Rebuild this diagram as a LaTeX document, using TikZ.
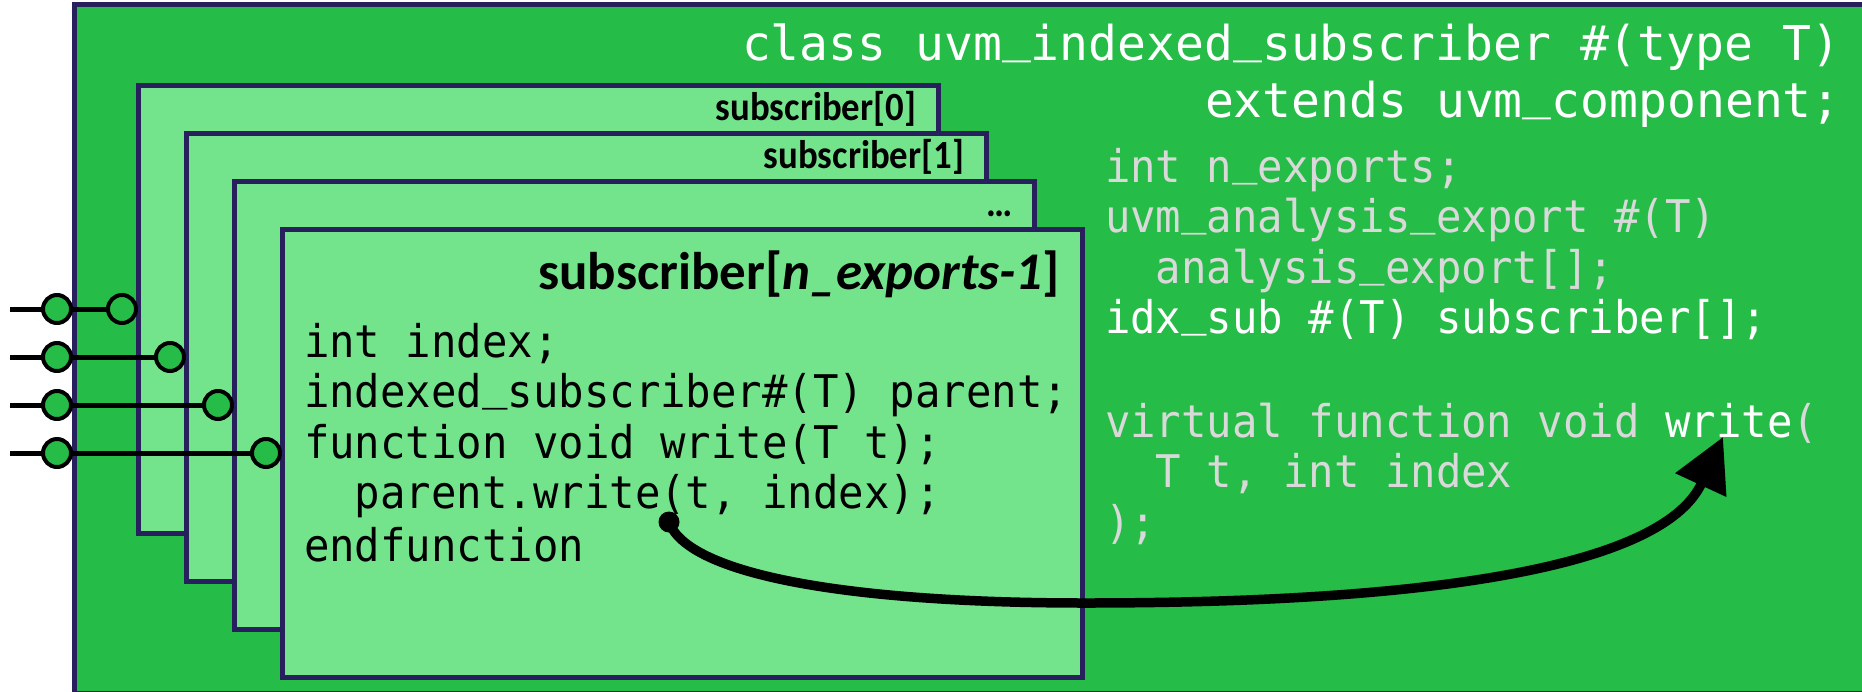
\documentclass[tikz,border=0pt]{standalone}
\usepackage{fontspec}
\usetikzlibrary{arrows.meta}
\newfontfamily\codefont[FakeStretch=0.94]{DejaVu Sans Mono}
\newfontfamily\headfont{DejaVu Sans Mono}
\newfontfamily\lblfont{Carlito}
\newfontfamily\smlblfont[FakeStretch=0.92]{Carlito}
\definecolor{outergreen}{RGB}{37,188,72}
\definecolor{innergreen}{RGB}{116,228,140}
\definecolor{navy}{RGB}{40,32,92}
\definecolor{codegray}{RGB}{217,217,217}
% underscore sitting close to the baseline
\newcommand{\us}{\raisebox{0.17em}{\_}}
\frenchspacing
\begin{document}
\begin{tikzpicture}[x=1pt,y=-1pt,
  classbox/.style={draw=navy,line width=5pt,fill=outergreen,rectangle,inner sep=0pt,outer sep=0pt,anchor=north west},
  subbox/.style={draw=navy,line width=5pt,fill=innergreen,rectangle,inner sep=0pt,outer sep=0pt,anchor=north west,minimum width=800pt,minimum height=448pt},
  port/.style={circle,draw=black,line width=4pt,fill=outergreen,inner sep=0pt,outer sep=0pt,minimum size=28pt},
  wire/.style={draw=black,line width=5pt},
  code/.style={inner sep=0pt,outer sep=0pt,anchor=base west,font=\codefont\fontsize{45}{54}\selectfont},
  head/.style={inner sep=0pt,outer sep=0pt,anchor=base west,text=white,font=\headfont\fontsize{48}{58}\selectfont},
  smlbl/.style={inner sep=0pt,outer sep=0pt,anchor=base east,text=black,font=\smlblfont\bfseries\fontsize{40}{48}\selectfont},
  biglbl/.style={inner sep=0pt,outer sep=0pt,anchor=base east,text=black,font=\lblfont\bfseries\fontsize{53}{62}\selectfont}]
\useasboundingbox (0,0) rectangle (1862,691);
\clip (0,0) rectangle (1862,691);

% enclosing class component
\node[classbox,minimum width=1800pt,minimum height=689pt] (cls) at (74,4.5) {};

% stacked subscriber components
\foreach \k in {0,...,3}
  \node[subbox] (s\k) at ({138+48*\k},{85+48*\k}) {};

% analysis ports
\foreach \k in {0,...,3} {
  \coordinate (w\k) at (10,{309+48*\k});
  \node[port] (po\k) at (57,{309+48*\k}) {};
  \node[port] (pi\k) at ({122+48*\k},{309+48*\k}) {};
  \draw[wire] (w\k) -- (po\k);
  \draw[wire] (po\k) -- (pi\k);
}

% subscriber labels
\node[smlbl] (l0) at (916,120) {subscriber[0]};
\node[smlbl] (l1) at (964,168) {subscriber[1]};
\node[smlbl] (l2) at (1013,216) {…};
\node[biglbl] (l3) at (1060,289) {subscriber[\textit{n\_exports-1}]};

% class header
\node[head] (h1) at (742,60) {class uvm\us{}indexed\us{}subscriber \#(type T)};
\node[head] (h2) at (1205,117) {extends uvm\us{}component;};

% class members
\node[code,text=codegray] (r1) at (1105,182) {int n\us{}exports;};
\node[code,text=codegray] (r2) at (1105,232) {uvm\us{}analysis\us{}export \#(T)};
\node[code,text=codegray] (r3) at (1105,283) {\phantom{xx}analysis\us{}export[];};
\node[code,text=white] (r4) at (1105,333) {idx\us{}sub \#(T) subscriber[];};
\node[code,text=codegray] (r5) at (1105,437) {virtual function void \textcolor{white}{write}(};
\node[code,text=codegray] (r6) at (1105,487) {\phantom{xx}T t, int index};
\node[code,text=codegray] (r7) at (1105,538) {);};

% subscriber body
\node[code,text=black] (c1) at (304,357) {int index;};
\node[code,text=black] (c2) at (304,407) {indexed\us{}subscriber\#(T) parent;};
\node[code,text=black] (c3) at (304,458) {function void write(T t);};
\node[code,text=black] (c4) at (304,508) {\phantom{xx}parent.write(t, index);};
\node[code,text=black] (c5) at (304,561) {endfunction};

% call from the subscriber to the parent's write
\node[circle,fill=black,inner sep=0pt,minimum size=21pt] (dot) at (669,522) {};
\coordinate (low) at (1085,603);
\coordinate (tip) at (1723,437);
\draw[line width=9.5pt,-{Triangle[length=53pt,width=54pt]}]
  (dot.center) .. controls (688,575) and (850,603) .. (low)
  .. controls (1400,603) and (1660,573) .. (tip);
\end{tikzpicture}
\end{document}
